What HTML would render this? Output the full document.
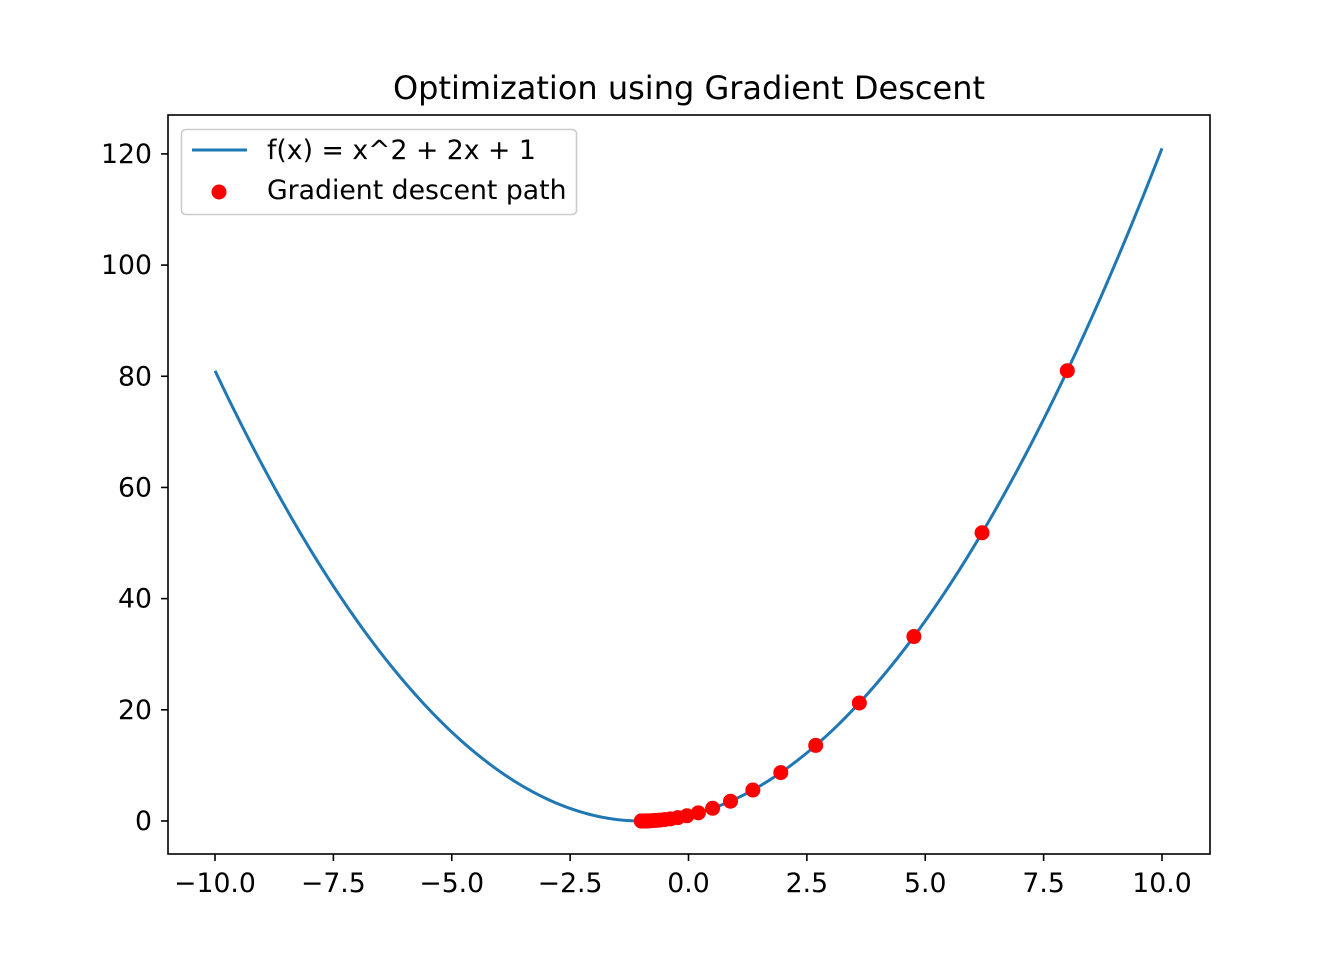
<!DOCTYPE html>
<html><head><meta charset="utf-8"><style>
body{margin:0;background:#fff}
svg text{font-family:"DejaVu Sans","Liberation Sans",sans-serif;fill:#000}
</style></head><body>
<svg id="chart" width="1344" height="960" xmlns="http://www.w3.org/2000/svg">
<rect width="1344" height="960" fill="#fff"/>
<text x="689" y="99" font-size="32" text-anchor="middle">Optimization using Gradient Descent</text>
<g id="plot"></g>
<rect x="168" y="115" width="1042" height="739" fill="none" stroke="#000" stroke-width="1.6"/>
<g>
<rect x="181.5" y="129.5" width="395" height="85" rx="4" fill="#fff" fill-opacity="0.8" stroke="#ccc" stroke-width="1.6"/>
<line x1="192" y1="150" x2="247" y2="150" stroke="#1f77b4" stroke-width="3"/>
<text x="267" y="159" font-size="26.7">f(x) = x^2 + 2x + 1</text>
<circle cx="219" cy="192" r="7.5" fill="red"/>
<text x="267" y="199" font-size="26.7">Gradient descent path</text>
</g>
</svg>
<script>
const xTicks=[-10,-7.5,-5,-2.5,0,2.5,5,7.5,10];
const xTickLabels=["−10.0","−7.5","−5.0","−2.5","0.0","2.5","5.0","7.5","10.0"];
const yTicks=[0,20,40,60,80,100,120];
const yTickLabels=["0","20","40","60","80","100","120"];
const pathX=[8,6.2,4.76,3.608,2.6864,1.9491,1.3593,0.8874,0.5099,0.2080,-0.0336,-0.2269,-0.3815,-0.5052,-0.6042,-0.6833,-0.7467,-0.7973,-0.8379,-0.8703,-0.8962,-0.9170,-0.9336,-0.9469,-0.9575,-0.9660,-0.9728,-0.9782,-0.9826,-0.9861,-0.9889,-0.9911,-0.9929,-0.9943,-0.9954];
const pathY=[81,51.84,33.18,21.23,13.59,8.70,5.57,3.56,2.28,1.46,0.934,0.598,0.383,0.245,0.157,0.100,0.064,0.041,0.026,0.017,0.011,0.007,0.004,0.003,0.002,0.001,0.001,0,0,0,0,0,0,0,0];
const xMin=-10.993,xMax=11.014,yMin=-5.94,yMax=127.0;
const L=168,R=1210,T=115,B=854;
const sx=v=>L+(v-xMin)/(xMax-xMin)*(R-L);
const sy=v=>B-(v-yMin)/(yMax-yMin)*(B-T);
const NS="http://www.w3.org/2000/svg";
const g=document.getElementById('plot');
function mk(t,a){const e=document.createElementNS(NS,t);for(const k in a)e.setAttribute(k,a[k]);g.appendChild(e);return e;}
xTicks.forEach((v,i)=>{
 const l=mk('line',{x1:sx(v),x2:sx(v),y1:B,y2:B+7,stroke:'#000','stroke-width':1.6});
 
 
 const t=mk('text',{x:sx(v),y:B+38,'font-size':26.7,'text-anchor':'middle'});t.textContent=xTickLabels[i];
 
 
});
yTicks.forEach((v,i)=>{
 const l=mk('line',{x1:L-7,x2:L,y1:sy(v),y2:sy(v),stroke:'#000','stroke-width':1.6});
 
 
 const t=mk('text',{x:L-16,y:sy(v)+9,'font-size':26.7,'text-anchor':'end'});t.textContent=yTickLabels[i];
 
 
});
let d='';
for(let i=0;i<=200;i++){const x=-10+i*0.1;const y=x*x+2*x+1;d+=(i?'L':'M')+sx(x).toFixed(2)+' '+sy(y).toFixed(2);}
const curve=mk('path',{d:d,fill:'none',stroke:'#1f77b4','stroke-width':3});


pathX.forEach((x,i)=>{
 const c=mk('circle',{cx:sx(x),cy:sy(pathY[i]),r:7.5,fill:'red'});
 
 
});
</script>
</body></html>
